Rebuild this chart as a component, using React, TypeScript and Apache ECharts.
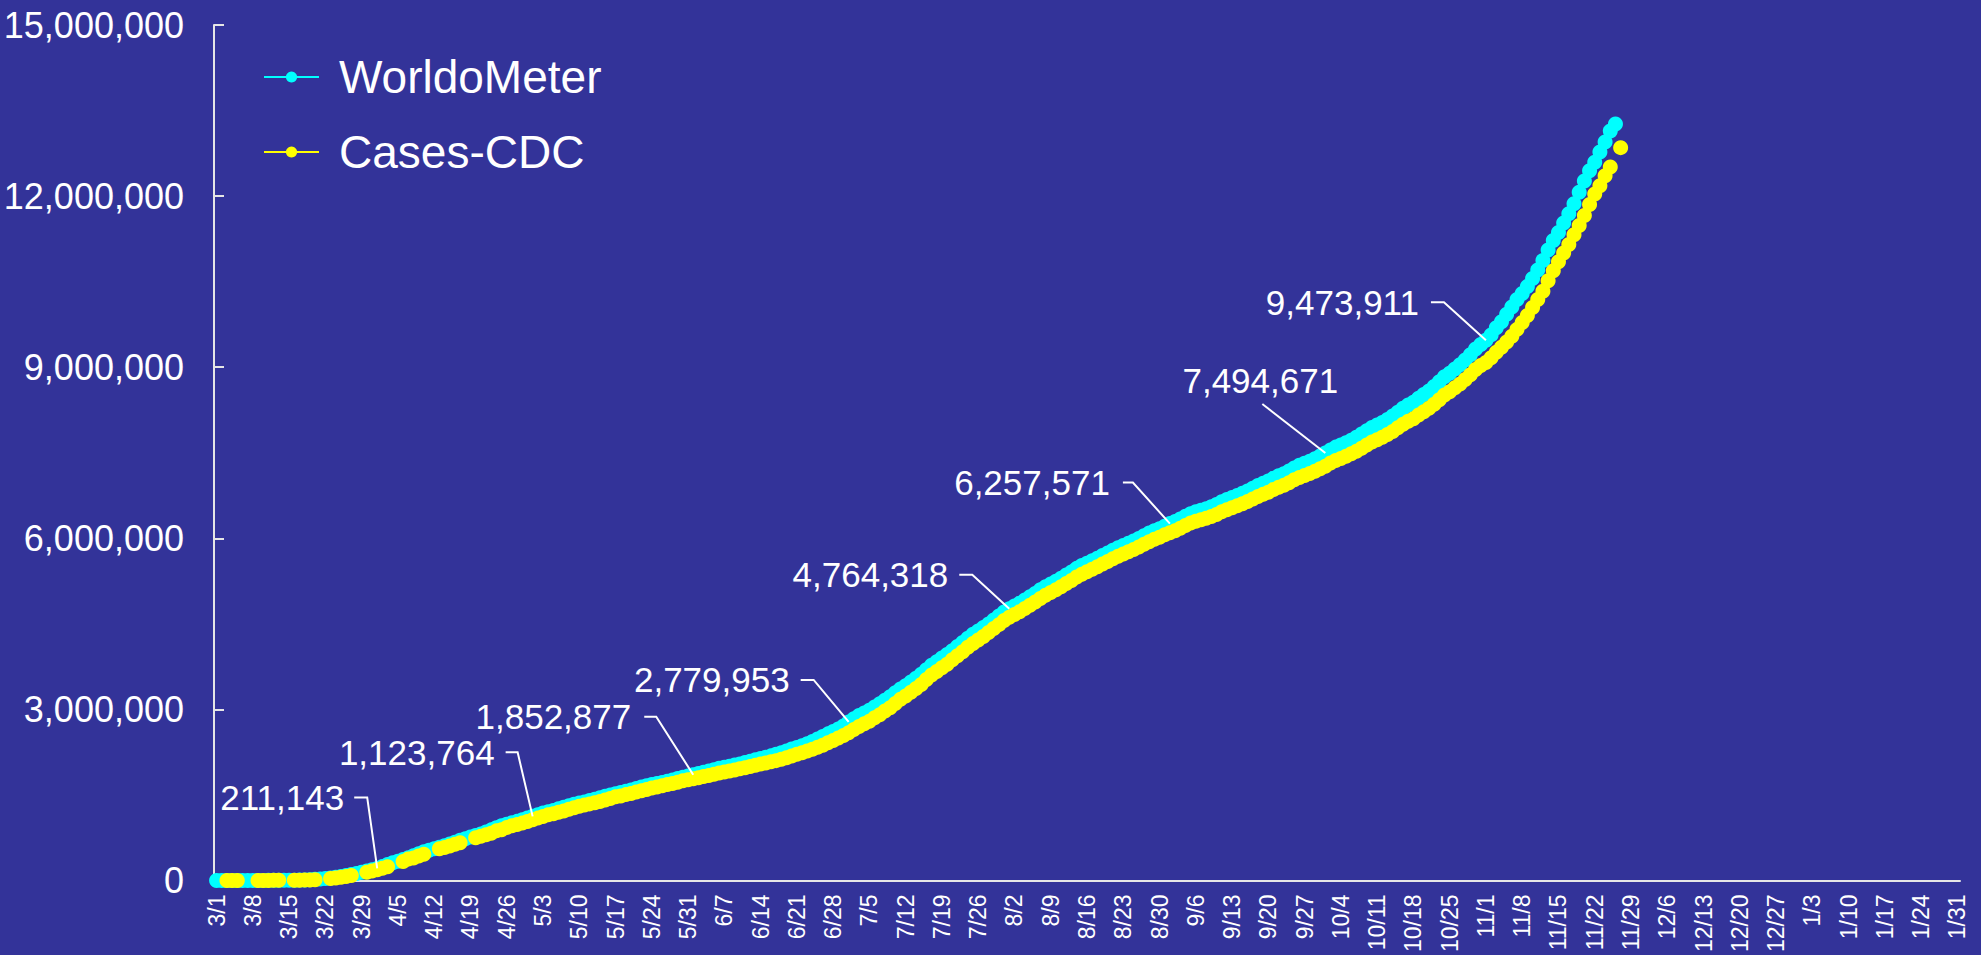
import React, { useEffect, useRef } from 'react';
import * as echarts from 'echarts';

// ---- categories: daily from 3/1 to 1/31 ----
const MONTH_NUMBERS = [3, 4, 5, 6, 7, 8, 9, 10, 11, 12, 1];
const MONTH_LENGTHS = [31, 30, 31, 30, 31, 31, 30, 31, 30, 31, 31];
const categories: string[] = [];
MONTH_NUMBERS.forEach((m, k) => {
  for (let d = 1; d <= MONTH_LENGTHS[k]; d++) categories.push(`${m}/${d}`);
});

// ---- WorldoMeter cumulative cases (3/1 .. 11/26) ----
const worldoMeter: number[] = [
  // March
  75, 100, 124, 158, 221, 319, 435, 541, 704, 994, 1301, 1630, 2183, 2770, 3613, 4596, 6344, 9197, 13779, 19367,
  24192, 33592, 43781, 54856, 68211, 85435, 104126, 123578, 142460, 163955, 189618,
  // April
  211143, 244877, 277953, 311357, 337072, 367004, 398185, 432132, 466299, 501615, 530006, 557571, 582594, 609685,
  639664, 671425, 703925, 733017, 760570, 788920, 814261, 849092, 886709, 925038, 960651, 987160, 1010356, 1035765,
  1064194, 1095304,
  // May
  1123764, 1153000, 1180634, 1204475, 1228603, 1256972, 1284024, 1311183, 1337018, 1357264, 1377051, 1400383,
  1422452, 1449264, 1475251, 1500000, 1519254, 1541304, 1563152, 1586225, 1614120, 1638223, 1661450, 1680913,
  1699933, 1718886, 1738424, 1761411, 1786157, 1811014, 1832140,
  // June
  1852877, 1875011, 1896598, 1918456, 1942347, 1965708, 1985410, 2004011, 2022892, 2043786, 2066876, 2090982,
  2116023, 2137360, 2159087, 2184329, 2211244, 2239342, 2271421, 2303504, 2330612, 2362119, 2397842, 2437236,
  2478989, 2525101, 2570076, 2613012, 2654852, 2710124,
  // July
  2779953, 2837189, 2891124, 2936077, 2982928, 3040833, 3097084, 3160079, 3219999, 3291786, 3355646, 3413995,
  3479483, 3545077, 3616747, 3695025, 3772234, 3834679, 3898550, 3961429, 4028569, 4100875, 4170503, 4248327,
  4315709, 4371839, 4433410, 4498343, 4568037, 4636038, 4705889,
  // August
  4764318, 4813647, 4862174, 4919116, 4973811, 5032179, 5095349, 5149723, 5199444, 5246531, 5300113, 5356235,
  5408445, 5472124, 5521432, 5562843, 5605137, 5650472, 5697133, 5742643, 5791276, 5835472, 5874146, 5912553,
  5951239, 5996328, 6043021, 6090238, 6133021, 6168643, 6210142,
  // September
  6257571, 6292139, 6337364, 6388236, 6431152, 6463170, 6489835, 6517864, 6552380, 6590451, 6638452, 6679163,
  6712911, 6750786, 6790215, 6830441, 6875443, 6924098, 6966617, 7003124, 7054214, 7094239, 7133425, 7178972,
  7234109, 7278225, 7313992, 7351852, 7394373, 7441226,
  // October
  7494671, 7549432, 7598170, 7634398, 7676512, 7720812, 7771254, 7829123, 7887455, 7942119, 7988235, 8030413,
  8083284, 8143016, 8210271, 8280187, 8336510, 8385093, 8455134, 8519246, 8583219, 8659233, 8746013, 8830171,
  8893232, 8967128, 9042367, 9124316, 9216211, 9317125, 9398310,
  // November
  9473911, 9566352, 9693118, 9797121, 9926346, 10056325, 10185217, 10291110, 10415043, 10554256, 10702219,
  10871156, 11056281, 11221374, 11360214, 11527003, 11690318, 11866182, 12066137, 12263115, 12446312, 12593456,
  12771283, 12950372, 13140215, 13265089,
];

// ---- CDC cumulative cases (3/1 .. 11/27), null = not reported ----
const casesCDC: (number | null)[] = [
  // March
  null, null, 100, 124, 158, null, null, null, 541, 704, 994, 1301, 1630, null, null, 3613, 4596, 6344, 9197, 13779,
  null, null, 33592, 43781, 54856, 68211, 85435, null, null, 142460, 163955,
  // April
  186101, 213144, 239279, null, null, 330891, 374329, 395011, 427460, 459165, null, null, 554849, 579005, 605390,
  632548, 661712, null, null, 746625, 776093, 802583, 828441, 869172, 890524, 928619, 957875, 981246, 1005147,
  1031659,
  // May
  1062446, 1092815, 1122486, 1152372, 1171185, 1193813, 1219066, 1248040, 1274036, 1300696, 1324488, 1342594,
  1364061, 1384930, 1412121, 1435098, 1467820, 1480349, 1504830, 1525186, 1551095, 1571617, 1595885, 1622612,
  1637456, 1662302, 1681212, 1698523, 1719827, 1747087, 1764671,
  // June
  1784326, 1802470, 1821617, 1841527, 1862463, 1885464, 1901593, 1918391, 1937038, 1956469, 1977935, 1998755,
  2021186, 2042780, 2060814, 2080484, 2100983, 2125314, 2152587, 2182101, 2211189, 2238416, 2269573, 2301763,
  2336459, 2372179, 2413418, 2452532, 2495788, 2540462,
  // July
  2590552, 2647301, 2700874, 2746263, 2792517, 2851309, 2906742, 2970415, 3029688, 3101254, 3175823, 3233617,
  3299742, 3365319, 3436482, 3525411, 3601958, 3664925, 3728213, 3791876, 3868302, 3941137, 4010296, 4088614,
  4155382, 4216527, 4278841, 4348096, 4418365, 4485712, 4556203,
  // August
  4614872, 4663209, 4712651, 4769437, 4823540, 4882716, 4945112, 4999268, 5049823, 5096157, 5150492, 5206871,
  5258012, 5322583, 5371046, 5412329, 5455782, 5500213, 5547609, 5592047, 5641830, 5685016, 5724472, 5762183,
  5801524, 5846917, 5893560, 5940402, 5983519, 6018248, 6059627,
  // September
  6097218, 6131604, 6175902, 6225718, 6266493, 6297385, 6322871, 6349022, 6381637, 6417563, 6463198, 6501744,
  6533419, 6569204, 6606317, 6644032, 6686875, 6733291, 6773658, 6807942, 6856318, 6893942, 6930811, 6973542,
  7025876, 7067613, 7100382, 7135914, 7175602, 7219843,
  // October
  7264318, 7318905, 7363527, 7399012, 7436874, 7480391, 7525860, 7579446, 7637082, 7687530, 7727914, 7770685,
  7817963, 7873402, 7939854, 8000512, 8051147, 8095476, 8159806, 8219613, 8277942, 8349571, 8430682, 8510438,
  8567905, 8637416, 8707053, 8784692, 8865874, 8957438, 9027986,
  // November
  9081236, 9163518, 9262047, 9348611, 9441782, 9540319, 9662875, 9781452, 9905218, 10048307, 10186451, 10331892,
  10517244, 10690135, 10849683, 11003561, 11152208, 11321874, 11482936, 11660413, 11851526, 12038717, 12182609,
  12358163, 12510481, null, 12849715,
];

// ---- annotated points (on the WorldoMeter series) ----
const annotationDates = ['4/1', '5/1', '6/1', '7/1', '8/1', '9/1', '10/1', '11/1'];

// ---- axis ----
const Y_MIN = 0;
const Y_MAX = 15000000;
const Y_STEP = 3000000;

// label placement (pixels, style only)
const annotationLayout = [
  { dx: -10, dy: -71, h: 13, gap: 10, above: false },
  { dx: -15, dy: -64, h: 12, gap: 11, above: false },
  { dx: -37, dy: -58, h: 12, gap: 13, above: false },
  { dx: -35, dy: -42, h: 13, gap: 11, above: false },
  { dx: -37, dy: -34, h: 13, gap: 11, above: false },
  { dx: -37, dy: -41, h: 10, gap: 13, above: false },
  { dx: -63, dy: -49, h: 0, gap: 0, above: true },
  { dx: -42, dy: -38, h: 13, gap: 12, above: false },
];

const FONT = '"Liberation Sans", Arial, Helvetica, sans-serif';
const BG = '#333399';
const CYAN = '#00FFFF';
const YELLOW = '#FFFF00';
const AXIS = '#E6E6E6';

const fmt = (v: number) => v.toLocaleString('en-US');

export default function App() {
  const ref = useRef<HTMLDivElement>(null);

  useEffect(() => {
    if (!ref.current) return;
    const chart = echarts.init(ref.current, undefined, { renderer: 'svg' });

    const annData = annotationDates.map((d) => {
      const idx = categories.indexOf(d);
      return [idx, worldoMeter[idx]];
    });

    chart.setOption({
      animation: false,
      backgroundColor: BG,
      grid: { left: 214, right: 21, top: 25, bottom: 73, containLabel: false },
      legend: {
        data: ['WorldoMeter', 'Cases-CDC'],
        orient: 'vertical',
        left: 263,
        top: 54,
        padding: 0,
        itemWidth: 55,
        itemHeight: 14,
        itemGap: 29,
        textStyle: {
          color: '#FFFFFF',
          fontSize: 46,
          fontFamily: FONT,
          lineHeight: 44,
          padding: [0, 0, 0, 15],
        },
      },
      xAxis: {
        type: 'category',
        data: categories,
        boundaryGap: true,
        axisLine: { show: true, lineStyle: { color: AXIS, width: 2 } },
        axisTick: { show: false },
        splitLine: { show: false },
        axisLabel: {
          interval: 6,
          rotate: 90,
          color: '#FFFFFF',
          fontSize: 23,
          fontFamily: FONT,
          margin: 14,
        },
      },
      yAxis: {
        type: 'value',
        min: Y_MIN,
        max: Y_MAX,
        interval: Y_STEP,
        axisLine: { show: true, lineStyle: { color: AXIS, width: 2 } },
        axisTick: { show: true, inside: true, length: 10, lineStyle: { color: AXIS, width: 2 } },
        splitLine: { show: false },
        axisLabel: {
          color: '#FFFFFF',
          fontSize: 36,
          fontFamily: FONT,
          margin: 30,
          formatter: (v: number) => fmt(v),
        },
      },
      series: [
        {
          name: 'WorldoMeter',
          type: 'line',
          data: worldoMeter,
          symbol: 'circle',
          symbolSize: 15,
          showAllSymbol: true,
          connectNulls: false,
          lineStyle: { color: CYAN, width: 2 },
          itemStyle: { color: CYAN },
          z: 2,
        },
        {
          name: 'Cases-CDC',
          type: 'line',
          data: casesCDC,
          symbol: 'circle',
          symbolSize: 15,
          showAllSymbol: true,
          connectNulls: false,
          lineStyle: { color: YELLOW, width: 2 },
          itemStyle: { color: YELLOW },
          z: 3,
        },
        {
          name: 'annotations',
          type: 'custom',
          data: annData,
          encode: { x: 0, y: 1 },
          clip: false,
          z: 10,
          renderItem: (params: any, api: any) => {
            const idx = api.value(0);
            const v = api.value(1);
            const [px, py] = api.coord([idx, v]);
            const o = annotationLayout[params.dataIndex];
            const ex = px + o.dx;
            const ey = py + o.dy;
            const pts = o.above ? [[px, py], [ex, ey]] : [[px, py], [ex, ey], [ex - o.h, ey]];
            const text = o.above
              ? {
                  type: 'text',
                  style: {
                    text: fmt(v),
                    x: ex - 2,
                    y: ey - 24,
                    align: 'center',
                    verticalAlign: 'middle',
                    fill: '#FFFFFF',
                    fontSize: 35,
                    fontFamily: FONT,
                  },
                }
              : {
                  type: 'text',
                  style: {
                    text: fmt(v),
                    x: ex - o.h - o.gap,
                    y: ey,
                    align: 'right',
                    verticalAlign: 'middle',
                    fill: '#FFFFFF',
                    fontSize: 35,
                    fontFamily: FONT,
                  },
                };
            return {
              type: 'group',
              children: [
                {
                  type: 'polyline',
                  shape: { points: pts },
                  style: { stroke: '#FFFFFF', lineWidth: 2, fill: 'none' },
                },
                text,
              ],
            };
          },
        },
      ],
    });

    return () => chart.dispose();
  }, []);

  return (
    <div
      ref={ref}
      style={{ position: 'absolute', left: 0, top: 0, width: 1981, height: 955 }}
    />
  );
}
